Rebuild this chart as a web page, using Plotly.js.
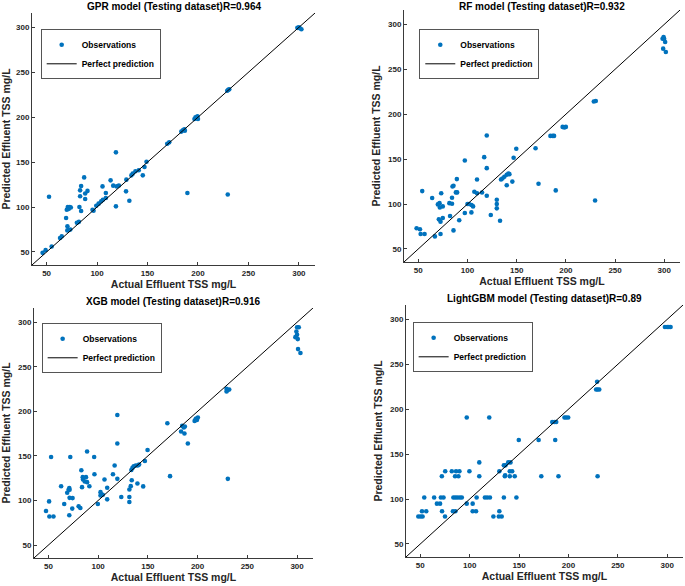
<!DOCTYPE html>
<html><head><meta charset="utf-8">
<script src="https://cdn.plot.ly/plotly-3.0.1.min.js"></script>
<style>html,body{margin:0;padding:0;background:#fff;}#chart{width:685px;height:586px;}</style>
</head><body><div id="chart"></div>
<script>
// ---- data ----
const axisRange = [35.5, 316];
const tickValues = [50, 100, 150, 200, 250, 300];
const panelTitles = [
  "GPR model (Testing dataset)R=0.964",
  "RF model (Testing dataset)R=0.932",
  "XGB model (Testing dataset)R=0.916",
  "LightGBM model (Testing dataset)R=0.89"
];
const xLabel = "Actual Effluent TSS mg/L";
const yLabel = "Predicted Effluent TSS mg/L";
const seriesNames = ["Observations", "Perfect prediction"];

const gprActual = [46,49,55,52.4,63.3,65,70,71,72,73,74,69.3,70.6,70.5,72,73.5,80,82,82.5,84.2,83.2,83.2,84.2,87.2,88.2,90.5,88.2,95.5,96.5,99.2,101.5,104.1,105.8,105.4,108.7,108.7,113.4,116,118.7,118.7,119.5,121.6,129,128.7,132,134,135.3,138,141.3,145.3,147,149,169.5,171.5,183.5,185,186.5,187,189.5,196.5,197.5,198.5,199.5,200,229,230,231,229.5,298.5,300,301,302.5];
const gprPredicted = [49,52,56,111.5,65.6,67.4,97,100,98,100,99.5,87.8,78.5,74,74.5,75,82.5,83.5,100,95.6,112,118.6,123.4,133,115,118,109,97,96,101.5,103.8,106.4,108.2,123,115.7,110,129.7,123.8,100.8,160.9,123,124,130.5,117.5,107,135.3,137.2,139.8,141,135.3,144.6,150.5,170.5,172,184,185.5,186.5,185,115.6,198,200,199,201,198,229.5,230.5,231,114,299.5,300,299,298];

const rfActual = [48.3,51.7,52.4,56.4,54,64.1,66.9,69.9,71.6,70.9,72.6,72.6,73.3,71.9,74.9,74.9,81.6,84.3,82.3,84.3,84.8,85.8,85.8,88.2,89.5,89.2,91.6,97.3,97.3,100,101.6,104,104.1,105.7,107,109.7,109.7,114.8,117,119.6,119.6,119.6,123.7,129.8,129.8,129.8,133.1,134.1,135.5,137.5,139.9,141.6,142.6,139.9,145.6,146.9,149.6,169.2,172.2,184.3,186.7,188,189.7,196.7,198.4,200,229.7,228.4,230.4,298.3,299.3,299.9,300.9,298.9,301.6];
const rfPredicted = [73,71.9,66.7,66.7,114.4,106.7,64,99.6,101,83,80.4,66.7,112,96.3,97.4,84.4,101,100.4,86.7,107,119.6,120.4,70.7,113,113,127.8,82,148.5,90,100,100,90.7,98.9,97.4,113.7,127.4,112,112.9,152.2,140,109.3,176.3,87.8,104.8,100,95.2,81.5,127.4,128.5,130.4,132.6,134.1,133.3,121,125,151.5,161.5,162.2,122.6,175.9,175.9,175.9,115.2,185.9,185.2,185.9,104,214.1,214.8,284.1,286,284.1,280.4,273,269.3];

const xgbActual = [47.6,50.7,51,55.1,52.7,62.8,65.9,68.9,70.3,71,71.3,71,71.3,72,74.3,74,80.4,82.1,83.1,83.8,84.5,84.8,86.5,87.8,88.9,91.2,88.9,96,96.3,99.7,102.4,102.4,104.7,106.4,109.1,109.1,114.9,116.6,119.3,119.3,119.3,123.3,131.4,131.4,131.4,132.8,133.8,133.4,134.5,135.8,137.8,139.8,141.2,139.5,145.3,147,149.7,169.6,172.3,183.4,184.5,186.1,187.2,186.8,190.2,197,198.6,200.3,199.3,198,229.1,230.1,231.8,229.1,230.4,300,301.7,299.3,300,298.3,300.7,301,303.4];
const xgbPredicted = [88.3,99,82,82,148.8,116,96,108.7,112,114,112,83.4,103,148.8,102.7,90.9,93.5,91.6,134,115,126.2,123.5,121.3,126.2,120.6,116,155,148.8,129.5,96,109.4,105.7,106.5,123.5,114.3,101.3,129.5,139.2,196,164,124.3,103.9,112.4,103.9,98.3,116.1,122.8,134.3,136.6,138.4,139.2,139.2,140.3,119.1,115.8,144.3,156.6,186.7,127.3,177.4,183.7,181.9,183,175.2,164,189.3,191.9,193,190.4,191.1,225.3,223.8,224.5,222.4,124.3,294.4,294.4,289.6,285.9,283.3,281.1,269.9,265.5];

const lgbmActual = [48,50.3,52.3,75,124,129.5,132.4, 51.7,56,72,83,85.5,103,106.4,130, 66.8,70,97,103, 54,64,70.8,73.5,83.5,85.5,87.6,90,92,107,115.4,117.7,120.5,134.6,147.3, 71.8,85.2,88.6,109.7,135.6,140.6,145.6,172.5,189.9,229.5, 75.2,81.9,86.2,89.6,99.7,130,140.6,143, 109.7,139,141.3, 134.6,136.2, 135.9, 149.7,169.8,186.6, 183.6,185.9,187.6, 97,119.8,196,197.7,199.7, 228,229.5,231.2, 229, 297.7,300,301.7,303.4];
const lgbmPredicted = [80.5,80.5,80.5,80.5,80.5,80.5,80.5, 86.4,86.4,86.4,86.4,86.4,86.4,86.4,86.4, 94.9,94.9,94.9,94.9, 101.8,101.8,101.8,101.8,101.8,101.8,101.8,101.8,101.8,101.8,101.8,101.8,101.8,101.8,101.8, 125.4,125.4,125.4,125.4,125.4,125.4,125.4,125.4,125.4,125.4, 130.9,130.9,130.9,130.9,130.9,130.9,130.9,130.9, 140.8,140.8,140.8, 137.5,137.5, 126.5, 165.8,165.8,165.8, 185.7,185.7,185.7, 190.8,190.8,190.8,190.8,190.8, 222,222,222, 230.5, 291.5,291.5,291.5,291.5];

// ---- layout / styles ----
const FONT = "Liberation Sans, Arial, Helvetica, sans-serif";
const dotColor = "#0072BD";
const axisColor = "#3a3a3a";
const panels = [
  {x: gprActual,  y: gprPredicted,  dom: {x:[0.0467,0.4599], y:[0.5478,0.9778]}, leg:{x:0.0594, y:0.950}, tshift: 6.5},
  {x: rfActual,   y: rfPredicted,   dom: {x:[0.5898,0.9927], y:[0.5529,0.9829]}, leg:{x:0.6121, y:0.950}, tshift: 4},
  {x: xgbActual,  y: xgbPredicted,  dom: {x:[0.0496,0.4569], y:[0.0478,0.4744]}, leg:{x:0.0608, y:0.4483}, tshift: 7},
  {x: lgbmActual, y: lgbmPredicted, dom: {x:[0.5927,0.9971], y:[0.0495,0.4795]}, leg:{x:0.6024, y:0.4500}, tshift: 6.5}
];

const traces = [];
const layout = {
  width: 685, height: 586,
  margin: {l:0, r:0, t:0, b:0},
  paper_bgcolor: "#fff", plot_bgcolor: "#fff",
  font: {family: FONT, color: "#000"},
  showlegend: true,
  annotations: []
};

panels.forEach((p, i) => {
  const n = i === 0 ? "" : String(i + 1);
  const legName = "legend" + n;
  traces.push({
    type: "scatter", mode: "markers", x: p.x, y: p.y,
    xaxis: "x" + n, yaxis: "y" + n, name: seriesNames[0], legend: legName,
    marker: {color: dotColor, size: 4.6}
  });
  traces.push({
    type: "scatter", mode: "lines", x: axisRange, y: axisRange,
    xaxis: "x" + n, yaxis: "y" + n, name: seriesNames[1], legend: legName,
    line: {color: "#000", width: 1}
  });
  const common = {
    range: axisRange, tickvals: tickValues, showgrid: false, zeroline: false,
    showline: true, linecolor: axisColor, linewidth: 1, mirror: false,
    ticks: "inside", ticklen: 3, tickcolor: axisColor,
    tickfont: {family: FONT, size: 8, weight: "bold", color: "#262626"},
    fixedrange: true
  };
  layout["xaxis" + n] = Object.assign({}, common, {
    domain: p.dom.x, anchor: "y" + n,
    title: {text: xLabel, font: {family: FONT, size: 10.5, weight: "bold", color: "#262626"}, standoff: 4}
  });
  layout["yaxis" + n] = Object.assign({}, common, {
    domain: p.dom.y, anchor: "x" + n,
    title: {text: yLabel, font: {family: FONT, size: 10.5, weight: "bold", color: "#262626"}, standoff: 5}
  });
  layout[legName] = {
    x: p.leg.x, y: p.leg.y, xanchor: "left", yanchor: "top",
    bgcolor: "#fff", bordercolor: "#555", borderwidth: 1,
    font: {family: FONT, size: 8.5, weight: "bold", color: "#000"},
    itemwidth: 30, tracegroupgap: 0
  };
  layout.annotations.push({
    text: panelTitles[i], showarrow: false,
    xref: "x" + n + " domain", yref: "y" + n + " domain",
    x: 0.5, y: 1, xanchor: "center", yanchor: "middle", yshift: p.tshift,
    font: {family: FONT, size: 10, weight: "bold", color: "#000"}
  });
});

Plotly.newPlot("chart", traces, layout, {staticPlot: true, displayModeBar: false});
</script>
</body></html>
